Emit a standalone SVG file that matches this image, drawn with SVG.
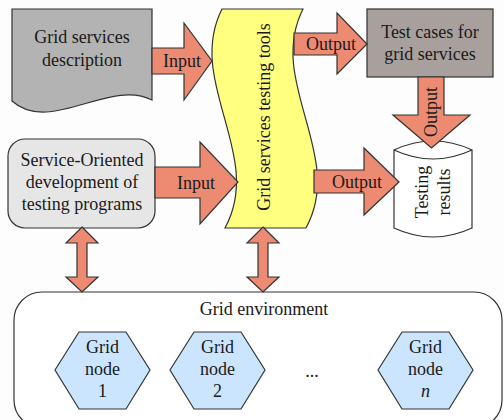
<svg xmlns="http://www.w3.org/2000/svg" width="504" height="420" viewBox="0 0 504 420">
<style>
text{font-family:"Liberation Serif","Times New Roman",serif;font-size:18px;fill:#1a1a1a;text-anchor:middle}
.sh{stroke:#333;stroke-width:1.2}
.arr{fill:#EC8A72;stroke:#333;stroke-width:1.2}
.hex{fill:#CCE5FF;stroke:#333;stroke-width:1.2}
</style>
<rect width="504" height="420" fill="#fdfdfd"/>
<g id="grid-environment">
<rect class="sh" x="14" y="292" width="488" height="136" rx="28" fill="#fff"/>
<text x="264" y="315">Grid environment</text>
</g>
<g id="grid-node-1">
<polygon class="hex" points="55,370 79,332 126,332 150,370 126,409 79,409"/>
<text x="102.5" y="353">Grid</text><text x="102.5" y="375">node</text><text x="102.5" y="397">1</text>
</g>
<g id="grid-node-2">
<polygon class="hex" points="170,370 194,332 241,332 265,370 241,409 194,409"/>
<text x="217.5" y="353">Grid</text><text x="217.5" y="375">node</text><text x="217.5" y="397">2</text>
</g>
<g id="ellipsis"><text x="312" y="377">...</text></g>
<g id="grid-node-n">
<polygon class="hex" points="378,370 402,332 449,332 473,370 449,409 402,409"/>
<text x="425.5" y="353">Grid</text><text x="425.5" y="375">node</text><text x="425.5" y="397" font-style="italic">n</text>
</g>
<g id="grid-services-description">
<path class="sh" fill="#B3B3B3" d="M12,9 L152,9 L152,100 C110,78 50,135 12,101 Z"/>
<text x="82" y="43">Grid services</text><text x="82" y="66">description</text>
</g>
<g id="service-oriented">
<rect class="sh" x="8" y="139" width="147" height="89" rx="17" fill="#E6E6E6"/>
<text x="82" y="166">Service-Oriented</text><text x="82" y="188">development of</text><text x="82" y="210">testing programs</text>
</g>
<g id="testing-tools">
<path class="sh" fill="#FFFF80" d="M222,9 L303,9 C266,82 346,155 306,228 L225,228 C265,155 185,82 222,9 Z"/>
<text transform="translate(270,117) rotate(-90)">Grid services testing tools</text>
</g>
<g id="test-cases">
<rect class="sh" x="367" y="9" width="126" height="68" fill="#A8A09C"/>
<text x="430" y="38">Test cases for</text><text x="430" y="60">grid services</text>
</g>
<g id="testing-results">
<path class="sh" fill="#fff" d="M394,150 Q433,132 472,150 L472,228 Q433,246 394,228 Z"/>
<path class="sh" fill="none" d="M394,150 Q433,168 472,150"/>
<text transform="translate(428,192) rotate(-90)">Testing</text>
<text transform="translate(450,192) rotate(-90)">results</text>
</g>
<g id="connectors">
<polygon class="arr" points="152,48 184,48 184,23 212,61 184,100 184,74 152,74"/>
<text x="182" y="67">Input</text>
<polygon class="arr" points="155,167 200,167 200,142 238,182 200,224 200,198 155,198"/>
<text x="196" y="189">Input</text>
<polygon class="arr" points="294,33 337,33 337,13 367,44 337,74 337,55 294,55"/>
<text x="331" y="50">Output</text>
<polygon class="arr" points="314,170 364,170 364,148 399,182 364,215 364,193 314,193"/>
<text x="357" y="188">Output</text>
<polygon class="arr" points="418,77 444,77 444,115 470,115 431.5,148 393,115 418,115"/>
<text transform="translate(437,112) rotate(-90)">Output</text>
<polygon class="arr" points="82,227 98,243 87,243 87,277 98,277 82,292 66,277 77,277 77,243 66,243"/>
<polygon class="arr" points="263,227 279,243 268,243 268,277 279,277 263,292 247,277 258,277 258,243 247,243"/>
</g>
</svg>
